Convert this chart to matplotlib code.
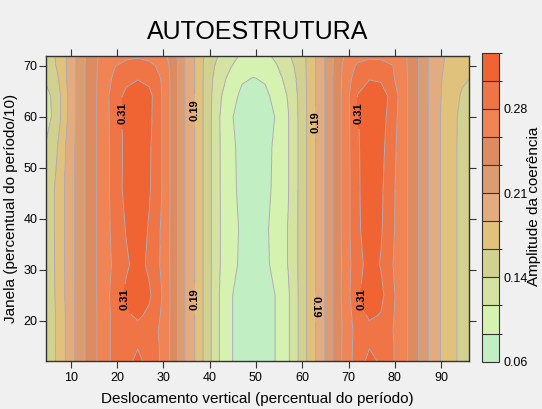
import numpy as np
import matplotlib.pyplot as plt
from matplotlib.colors import ListedColormap, BoundaryNorm

plt.rcParams['font.family'] = ['Liberation Sans', 'DejaVu Sans']

# grid: vertical shift (x) and window size (y)
deslocamento = [4.5, 7, 9.5, 12, 14.5, 17, 19.5, 22, 24.5, 27, 29.5, 32, 34.5, 37, 39.5,
                42, 44.5, 47, 49.5, 52, 54.5, 57, 59.5, 62, 64.5, 67, 69.5, 72, 74.5, 77,
                79.5, 82, 84.5, 87, 89.5, 92, 94.5, 97]
janela = [12, 15, 18, 21, 25, 31, 38, 46, 54, 60, 64, 67.5, 70, 72]

# coherence amplitude, one row per window value
amplitude = [
    [0.135, 0.164, 0.193, 0.222, 0.248, 0.269, 0.290, 0.299, 0.313, 0.298, 0.280, 0.251, 0.212, 0.183, 0.149, 0.114, 0.092, 0.075, 0.073, 0.075, 0.091, 0.110, 0.142, 0.175, 0.205, 0.239, 0.270, 0.294, 0.314, 0.303, 0.285, 0.265, 0.241, 0.212, 0.188, 0.169, 0.155, 0.147],
    [0.138, 0.164, 0.193, 0.222, 0.248, 0.269, 0.290, 0.297, 0.305, 0.296, 0.280, 0.251, 0.212, 0.183, 0.149, 0.114, 0.092, 0.075, 0.073, 0.075, 0.091, 0.110, 0.142, 0.175, 0.205, 0.239, 0.270, 0.293, 0.305, 0.299, 0.285, 0.265, 0.241, 0.212, 0.188, 0.169, 0.155, 0.147],
    [0.138, 0.164, 0.193, 0.222, 0.248, 0.269, 0.290, 0.294, 0.299, 0.293, 0.279, 0.251, 0.212, 0.183, 0.149, 0.114, 0.092, 0.075, 0.073, 0.075, 0.091, 0.110, 0.142, 0.175, 0.205, 0.239, 0.269, 0.292, 0.299, 0.297, 0.283, 0.265, 0.241, 0.212, 0.188, 0.169, 0.155, 0.147],
    [0.138, 0.164, 0.193, 0.222, 0.248, 0.269, 0.290, 0.303, 0.310, 0.302, 0.281, 0.251, 0.212, 0.183, 0.149, 0.114, 0.092, 0.075, 0.073, 0.075, 0.091, 0.110, 0.142, 0.175, 0.205, 0.239, 0.270, 0.296, 0.310, 0.305, 0.285, 0.265, 0.241, 0.212, 0.188, 0.169, 0.155, 0.147],
    [0.140, 0.165, 0.194, 0.222, 0.248, 0.270, 0.292, 0.311, 0.323, 0.310, 0.285, 0.251, 0.212, 0.183, 0.149, 0.114, 0.092, 0.075, 0.073, 0.075, 0.091, 0.110, 0.142, 0.175, 0.205, 0.239, 0.273, 0.302, 0.323, 0.313, 0.287, 0.265, 0.241, 0.212, 0.188, 0.169, 0.155, 0.147],
    [0.141, 0.166, 0.195, 0.222, 0.248, 0.270, 0.287, 0.303, 0.315, 0.302, 0.280, 0.251, 0.212, 0.183, 0.149, 0.115, 0.098, 0.083, 0.077, 0.083, 0.098, 0.114, 0.142, 0.175, 0.205, 0.239, 0.271, 0.299, 0.315, 0.305, 0.283, 0.265, 0.241, 0.212, 0.188, 0.169, 0.155, 0.147],
    [0.142, 0.166, 0.195, 0.222, 0.248, 0.270, 0.290, 0.308, 0.320, 0.304, 0.281, 0.251, 0.212, 0.183, 0.149, 0.115, 0.100, 0.084, 0.078, 0.084, 0.100, 0.114, 0.142, 0.175, 0.205, 0.239, 0.273, 0.302, 0.321, 0.309, 0.286, 0.265, 0.241, 0.212, 0.188, 0.169, 0.155, 0.147],
    [0.142, 0.166, 0.195, 0.222, 0.248, 0.270, 0.292, 0.314, 0.326, 0.309, 0.285, 0.251, 0.212, 0.183, 0.149, 0.115, 0.097, 0.081, 0.075, 0.081, 0.096, 0.112, 0.142, 0.175, 0.205, 0.239, 0.273, 0.302, 0.326, 0.311, 0.287, 0.265, 0.241, 0.212, 0.188, 0.169, 0.155, 0.147],
    [0.138, 0.159, 0.193, 0.222, 0.248, 0.270, 0.292, 0.313, 0.326, 0.310, 0.285, 0.251, 0.212, 0.183, 0.149, 0.115, 0.096, 0.080, 0.075, 0.080, 0.095, 0.112, 0.142, 0.175, 0.205, 0.239, 0.273, 0.303, 0.326, 0.314, 0.290, 0.265, 0.241, 0.212, 0.188, 0.169, 0.155, 0.147],
    [0.125, 0.147, 0.188, 0.222, 0.248, 0.270, 0.293, 0.314, 0.326, 0.313, 0.285, 0.251, 0.212, 0.183, 0.149, 0.115, 0.092, 0.078, 0.074, 0.078, 0.091, 0.112, 0.142, 0.175, 0.205, 0.239, 0.273, 0.305, 0.326, 0.317, 0.294, 0.265, 0.241, 0.212, 0.188, 0.169, 0.156, 0.148],
    [0.127, 0.148, 0.188, 0.222, 0.248, 0.270, 0.294, 0.313, 0.322, 0.314, 0.285, 0.251, 0.212, 0.183, 0.149, 0.118, 0.097, 0.084, 0.080, 0.084, 0.096, 0.115, 0.143, 0.175, 0.205, 0.239, 0.273, 0.308, 0.323, 0.319, 0.298, 0.265, 0.241, 0.212, 0.189, 0.171, 0.159, 0.152],
    [0.139, 0.156, 0.190, 0.222, 0.248, 0.269, 0.287, 0.300, 0.305, 0.300, 0.282, 0.251, 0.212, 0.183, 0.149, 0.124, 0.106, 0.091, 0.088, 0.091, 0.103, 0.123, 0.144, 0.175, 0.205, 0.239, 0.271, 0.296, 0.305, 0.303, 0.286, 0.265, 0.241, 0.212, 0.190, 0.173, 0.164, 0.160],
    [0.142, 0.163, 0.190, 0.222, 0.248, 0.268, 0.281, 0.290, 0.292, 0.288, 0.277, 0.250, 0.212, 0.183, 0.150, 0.130, 0.115, 0.101, 0.096, 0.100, 0.112, 0.129, 0.146, 0.175, 0.205, 0.238, 0.269, 0.286, 0.292, 0.291, 0.283, 0.264, 0.241, 0.212, 0.192, 0.176, 0.167, 0.164],
    [0.144, 0.164, 0.190, 0.219, 0.248, 0.265, 0.273, 0.276, 0.279, 0.275, 0.269, 0.248, 0.212, 0.183, 0.152, 0.136, 0.123, 0.109, 0.103, 0.108, 0.118, 0.135, 0.147, 0.175, 0.205, 0.236, 0.263, 0.273, 0.277, 0.276, 0.273, 0.263, 0.241, 0.212, 0.193, 0.178, 0.170, 0.166],
]

niveis = np.linspace(0.0645, 0.3307, 12)
cores = ['#c2eec4', '#d6f2b0', '#d4e2a2', '#d2d290', '#e0c27c', '#e2ac80',
         '#dc9c72', '#dc8c60', '#f08454', '#ef7446', '#ef6432']
rotulos_pos = [(21.0, 60.7), (22.4, 24.3), (71.8, 60.7), (73.2, 24.3),
               (36.6, 61.3), (36.8, 24.3), (62.8, 59.0), (62.8, 22.7)]
rotulos_ang = [90, 90, 90, 90, 90, 90, 90, 270]

cmap = ListedColormap(cores)
norm = BoundaryNorm(niveis, cmap.N)

fig = plt.figure(figsize=(5.42, 4.09), dpi=100, facecolor='#f0f0f0')
ax = fig.add_axes([0.0849, 0.1174, 0.7804, 0.7457])

X, Y = np.meshgrid(deslocamento, janela)
Z = np.array(amplitude)

cf = ax.contourf(X, Y, Z, levels=niveis, cmap=cmap, norm=norm)
linhas = [niveis[i] for i in range(len(niveis)) if i not in (5, 10)]
ax.contour(X, Y, Z, levels=linhas, colors='#b0acb4', linewidths=0.7)
cl = ax.contour(X, Y, Z, levels=[niveis[5], niveis[10]], colors='#b0acb4', linewidths=0.7)

txt = ax.clabel(cl, fmt='%.2f', inline=True, fontsize=8,
                manual=rotulos_pos, colors='black')
for t, ang in zip(txt, rotulos_ang):
    t.set_fontweight('bold')
    t.set_rotation(ang)

ax.set_xlim(4.7, 96.0)
ax.set_ylim(12.1, 71.9)
ax.set_xticks(range(10, 100, 10))
ax.set_yticks(range(20, 80, 10))
ax.tick_params(direction='out', length=5, width=0.8, color='#333333',
               top=True, right=True, labelsize=9)
ax.tick_params(axis='y', pad=1)
ax.tick_params(axis='x', pad=3)
for s in ax.spines.values():
    s.set_color('#333333')
    s.set_linewidth(1.0)

ax.set_title('AUTOESTRUTURA', fontsize=18, pad=12)
ax.set_xlabel('Deslocamento vertical (percentual do período)', fontsize=11, labelpad=6)
ax.set_ylabel('Janela (percentual do período/10)', fontsize=11, labelpad=4)

cax = fig.add_axes([0.889, 0.1157, 0.032, 0.7555])
cb = fig.colorbar(cf, cax=cax, ticks=niveis[[0, 3, 6, 9]], drawedges=True)
cb.ax.set_yticklabels(['%.2f' % v for v in niveis[[0, 3, 6, 9]]])
cb.ax.tick_params(length=0, labelsize=9, pad=3)
cb.outline.set_edgecolor('#333333')
cb.dividers.set_color('#333333')
cb.dividers.set_linewidth(0.8)

fig.text(0.985, 0.495, 'Amplitude da coerência', rotation=90,
         ha='center', va='center', fontsize=11)

fig.savefig('out.png', dpi=100, facecolor=fig.get_facecolor())
